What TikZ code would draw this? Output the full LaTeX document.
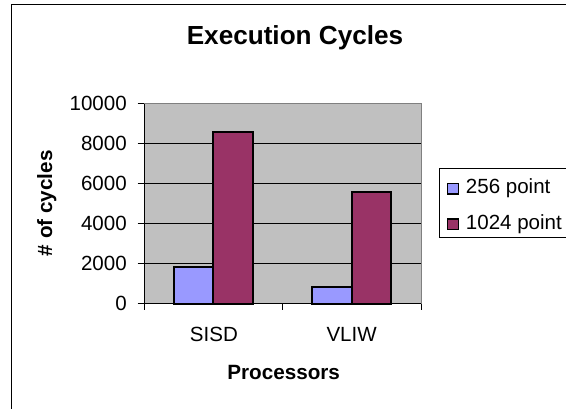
\documentclass[tikz,border=0pt]{standalone}
\usepackage{fontspec}
\setmainfont{Liberation Sans}
\definecolor{lavender}{HTML}{9999FF}
\definecolor{plum}{HTML}{993366}
\definecolor{plotgray}{HTML}{C0C0C0}
\begin{document}
\begin{tikzpicture}[x=0.75pt,y=-0.75pt,
    bar/.style={draw=black,line width=1.5pt},
    grid line/.style={draw=black,line width=0.75pt},
    ticklabel/.style={font=\fontsize{15.4}{16}\selectfont,inner sep=0pt}]
      \path[use as bounding box,clip] (0,0) rectangle (566,409);
      \fill[white] (0,0) rectangle (566,409);
      % chart frame (runs past the page on the right and bottom)
      \draw[line width=0.75pt] (11,5) rectangle (600,440);
      \node[font=\bfseries\fontsize{19.6}{22}\selectfont] (title) at (295,38) {Execution Cycles};
      % plot area
      \fill[plotgray] (144.4,103.7) rectangle (421,303.7);
      \draw[gray,line width=0.75pt] (144.4,103.7) -- (421,103.7) -- (421,303.7);
      \foreach \v in {2000,4000,...,8000}
        \draw[grid line] (144.4,{303.7-0.02*\v}) -- (421,{303.7-0.02*\v});
      % bars
      \draw[bar,fill=lavender] (173.7,303.7) rectangle (213.4,267.1);
      \draw[bar,fill=plum] (213.4,303.7) rectangle (253.3,132.3);
      \draw[bar,fill=lavender] (312.3,303.7) rectangle (351.7,287.3);
      \draw[bar,fill=plum] (351.7,303.7) rectangle (391.3,192);
      % axes
      \draw[line width=0.75pt] (144.4,103.7) -- (144.4,310);
      \draw[line width=0.75pt] (144.4,303.7) -- (421,303.7);
      \foreach \x in {282.3,421}
        \draw[line width=0.75pt] (\x,303.7) -- (\x,310);
      \foreach \v in {0,2000,...,10000} {
        \draw[line width=0.75pt] (137.5,{303.7-0.02*\v}) -- (144.4,{303.7-0.02*\v});
        \node[ticklabel,anchor=east] (y\v) at (127,{303.7-0.02*\v}) {\v};
      }
      \node[ticklabel] (sisd) at (213.9,334.3) {SISD};
      \node[ticklabel] (vliw) at (351.6,334.3) {VLIW};
      \node[font=\bfseries\fontsize{15.5}{17}\selectfont] (xlabel) at (283.7,372.7) {Processors};
      \node[font=\bfseries\fontsize{15.5}{17}\selectfont,rotate=90] (ylabel) at (46.9,203.3) {\# of cycles};
      % legend
      \draw[line width=0.75pt,fill=white] (439.4,168.3) rectangle (600,237.5);
      \draw[line width=1pt,fill=lavender] (447.7,183.3) rectangle (458.3,194);
      \draw[line width=1pt,fill=plum] (447.7,219) rectangle (458.3,229.7);
      \node[ticklabel,anchor=west] (leg256) at (465.7,188.5) {256 point};
      \node[ticklabel,anchor=west] (leg1024) at (465.7,224) {1024 point};
    \end{tikzpicture}
\end{document}
